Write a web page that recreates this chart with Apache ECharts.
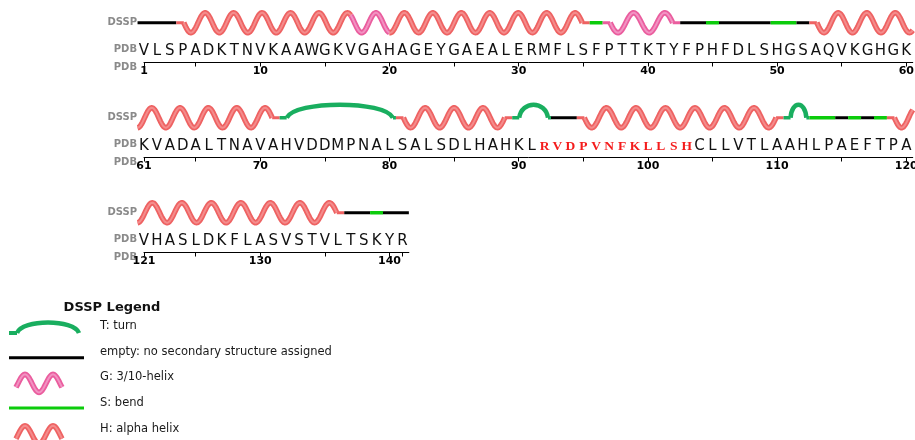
<!DOCTYPE html>
<html><head><meta charset="utf-8">
<script src="https://cdn.jsdelivr.net/npm/echarts@6/dist/echarts.min.js"></script>
<style>html,body{margin:0;padding:0;background:#fff}#c{width:915px;height:440px}</style>
</head><body><div id="c"></div>
<script>
// ---------------- data ----------------
const sequence = 'VLSPADKTNVKAAWGKVGAHAGEYGAEALERMFLSFPTTKTYFPHFDLSHGSAQVKGHGKKVADALTNAVAHVDDMPNALSALSDLHAHKLRVDPVNFKLLSHCLLVTLAAHLPAEFTPAVHASLDKFLASVSTVLTSKYR'.split('');
const rowStarts = [1, 61, 121];
const rowEnds = [60, 120, 141];
const tickLabels = [[1,10,20,30,40,50,60],[61,70,80,90,100,110,120],[121,130,140]];
const tickMarks = [[1,5,10,15,20,25,30,35,40,45,50,55,60],[61,65,70,75,80,85,90,95,100,105,110,115,120],[121,125,130,135,140,141]];
const highlightRange = [92, 103];
const dsspCodes = ['-','H','G','H','S','G','-','S','-','S','-','H','T','H','T','-','H','T','S','-','S','-','S','H','-','S','-'];
const dsspFrom  = [1,  4, 17, 20, 36, 37, 43, 45, 46, 50, 52, 53, 72, 81, 90, 93, 95,111,113,115,116,117,118,119,137,139,140];
const dsspTo    = [3, 16, 19, 35, 36, 42, 44, 45, 49, 51, 52, 71, 80, 89, 92, 94,110,112,114,115,116,117,118,136,138,139,141];
const legendCodes = ['T','-','G','S','H'];
const legendLabels = ['T: turn','empty: no secondary structure assigned','G: 3/10-helix','S: bend','H: alpha helix'];

// ---------------- layout / style ----------------
const UNIT = 12.92;
const ROW_AXIS_Y = [62.5, 157.5, 252.5];
const TRACK_H = 53;
const C = {
  H: {outer:'#ee6262', inner:'#f48c8c'},
  G: {outer:'#ea5d9e', inner:'#f292c2'},
  T: '#19ae5f', S: '#0ccc0c', '-': '#000000'
};
const AMP = 10, P0 = 28.5, INSET = 7.5;

const isHelix = c => c === 'H' || c === 'G';
function codeAt(r){ for (let i=0;i<dsspCodes.length;i++) if (r>=dsspFrom[i] && r<=dsspTo[i]) return dsspCodes[i]; return null; }

function rowItems(row){
  const s = rowStarts[row], e = rowEnds[row];
  const items = [];
  for (let i=0;i<dsspCodes.length;i++){
    const a = Math.max(dsspFrom[i], s), b = Math.min(dsspTo[i], e);
    if (a > b) continue;
    const sg = {code: dsspCodes[i], from: a, to: b};
    if (isHelix(sg.code)){
      const last = items[items.length-1];
      if (last && last.kind === 'helix' && last.to === a-1){ last.segs.push(sg); last.to = b; continue; }
      items.push({kind:'helix', from:a, to:b, segs:[sg]});
    } else items.push({kind: sg.code === 'T' ? 'turn' : 'line', code: sg.code, from:a, to:b});
  }
  items.forEach(it => {
    if (it.kind === 'helix'){
      it.contLeft = it.from === s && isHelix(codeAt(it.from-1));
      it.contRight = it.to === e && isHelix(codeAt(it.to+1));
    }
  });
  return items;
}

function wavePoints(x0, x1, fn){
  const pts = [];
  const n = Math.max(2, Math.ceil(x1 - x0));
  for (let k=0;k<=n;k++){ const x = x0 + (x1-x0)*k/n; pts.push([x, fn(x)]); }
  return pts;
}

function renderDssp(items){
  return function(params, api){
    const it = items[params.dataIndex];
    const L = api.coord([it.from-0.5, 1])[0], R = api.coord([it.to+0.5, 1])[0];
    const base = api.coord([it.from, 1])[1];
    const ch = [];
    const flat = (a, b, col, w) => ch.push({type:'line', shape:{x1:a,y1:base,x2:b,y2:base}, style:{stroke:col, lineWidth:w}});
    if (it.kind === 'line'){
      flat(L, R, C[it.code], it.code === 'S' ? 3.5 : 3);
    } else if (it.kind === 'turn'){
      const a = L + 7, b = R - 3, w = b - a;
      flat(L, a, C.T, 3.5); flat(b, R, C.T, 3.5);
      ch.push({type:'bezierCurve', shape:{x1:a,y1:base,x2:b,y2:base,cpx1:a+0.08*w,cpy1:base-17.5,cpx2:b-0.08*w,cpy2:base-17.5},
        style:{stroke:C.T, lineWidth:4.5, fill:null}});
    } else {
      const xs = it.contLeft ? L : L + INSET;
      const xe = it.contRight ? R : R - INSET;
      const W = xe - xs;
      let P, ph;
      if (it.contLeft){ ph = Math.PI/2;
        if (it.contRight) P = P0; else { const k = Math.max(0, Math.round((W - P0/4)/(P0/2))); P = W/(0.25 + k/2); }
      } else { ph = 0;
        if (it.contRight) P = P0; else { const k = Math.max(1, Math.round(W/(P0/2))); P = 2*W/k; }
      }
      const fn = x => base + AMP*Math.sin(2*Math.PI*(x-xs)/P + ph);
      const first = it.segs[0], last = it.segs[it.segs.length-1];
      if (!it.contLeft) flat(L, xs, C[first.code].outer, 3);
      if (!it.contRight) flat(xe, R, C[last.code].outer, 3);
      const pieces = it.segs.map((sg, j) => {
        const a = j === 0 ? xs : api.coord([sg.from, 1])[0];
        const b = j === it.segs.length-1 ? xe : api.coord([it.segs[j+1].from, 1])[0];
        return {code: sg.code, pts: wavePoints(a, b, fn)};
      });
      pieces.forEach(p => ch.push({type:'polyline', shape:{points:p.pts}, style:{stroke:C[p.code].outer, lineWidth:5.5, fill:null, lineJoin:'round'}}));
      pieces.forEach(p => ch.push({type:'polyline', shape:{points:p.pts}, style:{stroke:C[p.code].inner, lineWidth:2, fill:null, lineJoin:'round'}}));
    }
    return {type:'group', children: ch};
  };
}

function renderLetters(params, api){
  const r = api.value(0);
  const p = api.coord([r, 0]);
  const hi = r >= highlightRange[0] && r <= highlightRange[1];
  return {type:'text', x:p[0], y:p[1] + (hi ? 2 : 1.5), style:{
    text: sequence[r-1], fill: hi ? '#f41c1c' : '#111',
    font: hi ? 'bold 13.5px "Liberation Serif"' : '15px "DejaVu Sans"',
    align:'center', verticalAlign:'middle', textAlign:'center', textVerticalAlign:'middle'}};
}

const grids = [], xAxes = [], yAxes = [], series = [];
rowStarts.forEach((s, i) => {
  const e = rowEnds[i];
  grids.push({left:144, top:ROW_AXIS_Y[i]-TRACK_H, height:TRACK_H, width:(e+0.5-s)*UNIT, containLabel:false, outerBoundsMode:'none'});
  xAxes.push({gridIndex:i, type:'value', min:s, max:e+0.5,
    name:'PDB', nameLocation:'start', nameGap:7, nameMoveOverlap:false,
    nameTextStyle:{color:'#8a8a8a', fontWeight:'bold', fontSize:10, fontFamily:'DejaVu Sans', verticalAlign:'top', padding:[0,0,0,0]},
    axisLine:{show:true, lineStyle:{color:'#000', width:1}},
    axisTick:{show:true, customValues:tickMarks[i], length:4, lineStyle:{color:'#000', width:1}},
    axisLabel:{customValues:tickLabels[i], color:'#000', fontWeight:'bold', fontSize:11, fontFamily:'DejaVu Sans', margin:3.5},
    splitLine:{show:false}});
  yAxes.push({gridIndex:i, type:'category', data:['PDB','DSSP'],
    axisLine:{show:false}, axisTick:{show:false}, splitLine:{show:false},
    axisLabel:{color:'#8a8a8a', fontWeight:'bold', fontSize:10, fontFamily:'DejaVu Sans', margin:7}});
  const items = rowItems(i);
  series.push({type:'custom', xAxisIndex:i, yAxisIndex:i, clip:false, silent:true,
    data: items.map(it => [it.from, 1, it.to]), encode:{x:[0,2], y:1},
    renderItem: renderDssp(items)});
  const letters = [];
  for (let r=s; r<=e; r++) letters.push([r, 0]);
  series.push({type:'custom', xAxisIndex:i, yAxisIndex:i, clip:false, silent:true,
    data: letters, encode:{x:0, y:1}, renderItem: renderLetters});
});

// ---------------- legend (graphic) ----------------
const graphic = [{type:'text', x:112, y:308, style:{text:'DSSP Legend', fill:'#111', font:'bold 13px "DejaVu Sans"', align:'center', verticalAlign:'middle'}}];
function legendWave(code, c){
  const fn = x => c - 9*Math.cos(2*Math.PI*(x-25)/28);
  const pts = wavePoints(16, 62, fn);
  graphic.push({type:'polyline', shape:{points:pts}, style:{stroke:C[code].outer, lineWidth:5.5, fill:null}});
  graphic.push({type:'polyline', shape:{points:pts}, style:{stroke:C[code].inner, lineWidth:2, fill:null}});
}
legendCodes.forEach((code, i) => {
  const yT = 326 + 25.7*i;
  graphic.push({type:'text', x:100, y:yT, style:{text:legendLabels[i], fill:'#1a1a1a', font:'11.5px "DejaVu Sans"', align:'left', verticalAlign:'middle'}});
  if (code === 'T'){
    const b = yT + 7;
    graphic.push({type:'line', shape:{x1:9,y1:b,x2:17,y2:b}, style:{stroke:C.T, lineWidth:4}});
    graphic.push({type:'bezierCurve', shape:{x1:17,y1:b,x2:79,y2:b,cpx1:22,cpy1:b-14,cpx2:74,cpy2:b-14}, style:{stroke:C.T, lineWidth:4.5, fill:null}});
  } else if (code === '-' || code === 'S'){
    const b = yT + (code === 'S' ? 5 : 6);
    graphic.push({type:'line', shape:{x1:9,y1:b,x2:84,y2:b}, style:{stroke:C[code], lineWidth:3}});
  } else {
    legendWave(code, yT + 6);
  }
});

const chart = echarts.init(document.getElementById('c'), null, {renderer:'canvas'});
chart.setOption({animation:false, backgroundColor:'#fff', grid:grids, xAxis:xAxes, yAxis:yAxes, series:series, graphic:graphic});
</script></body></html>
